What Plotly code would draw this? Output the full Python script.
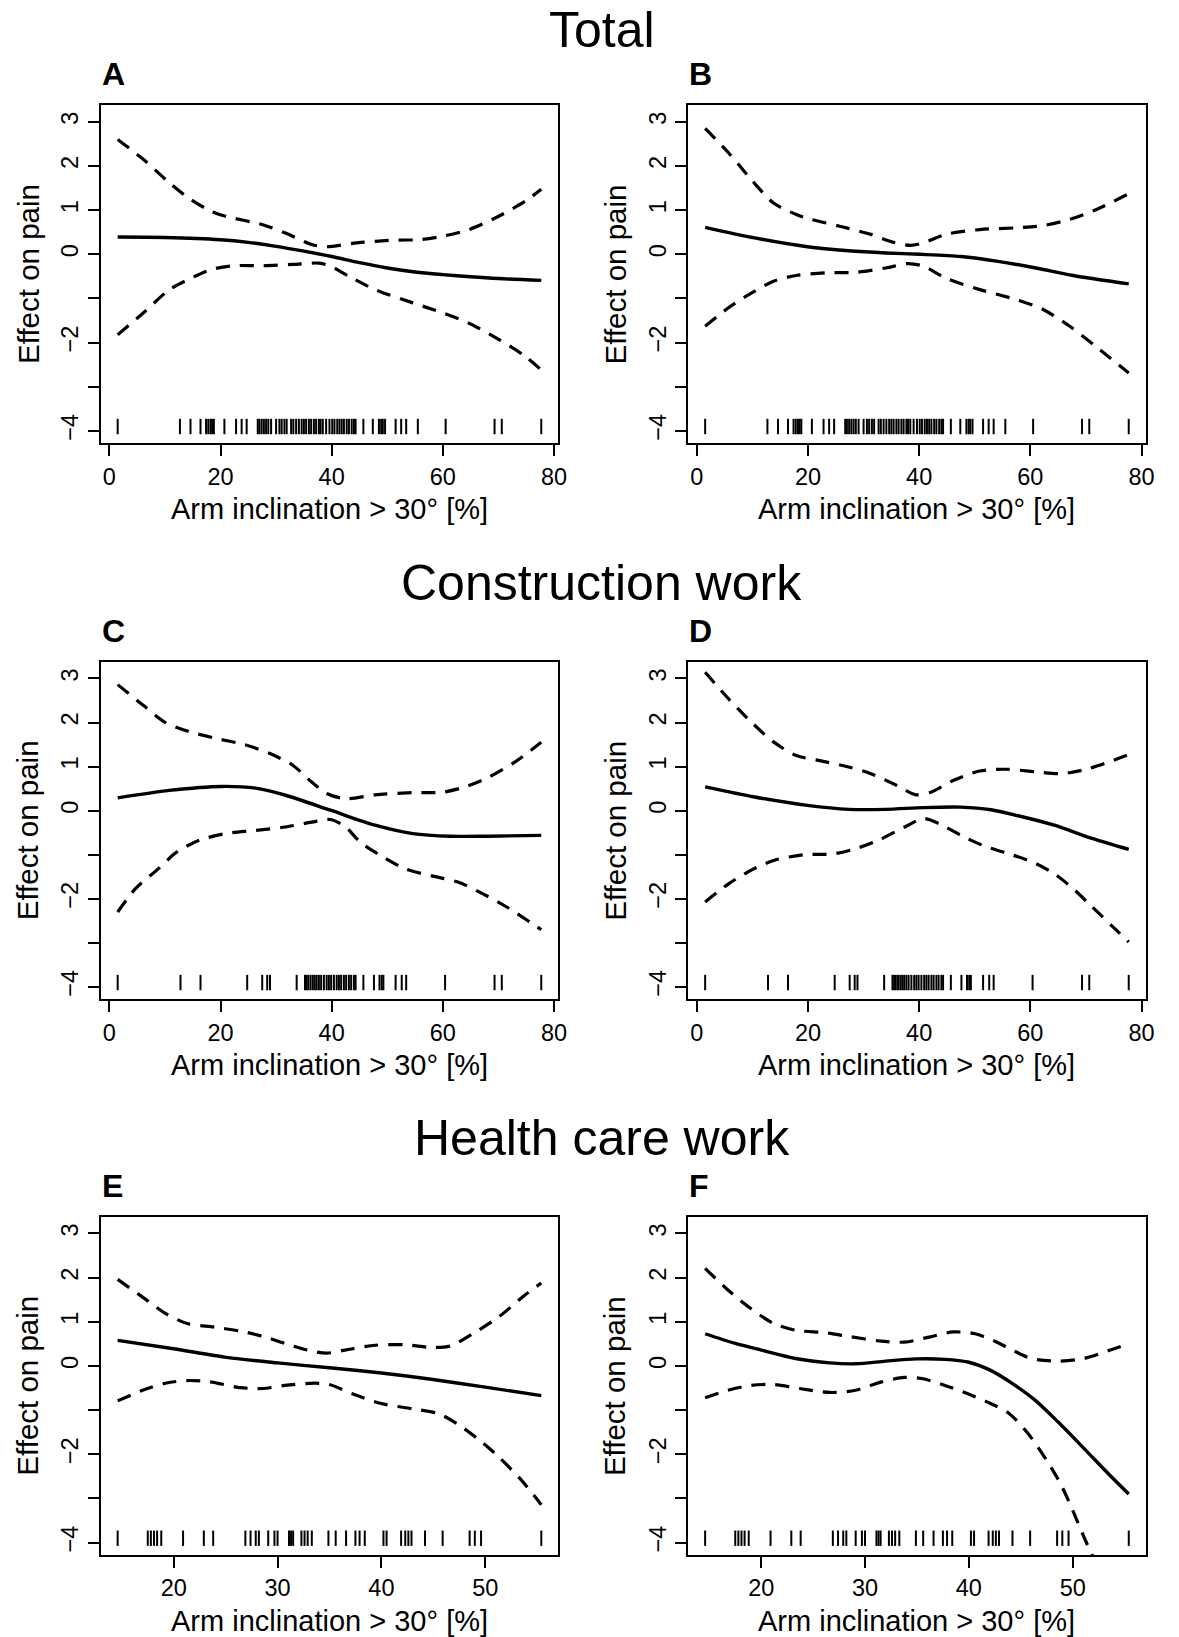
import plotly.graph_objects as go

# ---------------- data ----------------
# Panel A (Total, model 1)
A_fit_x = [1.5, 10, 20, 25, 30, 35, 40, 45, 50, 55, 60, 65, 70, 77.7]
A_fit_y = [0.39, 0.38, 0.33, 0.27, 0.18, 0.07, -0.05, -0.19, -0.31, -0.4, -0.46, -0.51, -0.55, -0.59]
A_up_x = [1.5, 6.1, 10.8, 14.2, 18.2, 20.9, 27.6, 31.7, 36.4, 39.1, 44.5, 51.2, 55.9, 60, 64.7, 69.4, 74.8, 77.7]
A_up_y = [2.6, 2.15, 1.62, 1.28, 0.98, 0.86, 0.67, 0.48, 0.22, 0.17, 0.26, 0.32, 0.33, 0.41, 0.56, 0.82, 1.2, 1.47]
A_lo_x = [1.5, 6.1, 10.8, 14.2, 18.2, 22.2, 27.6, 33, 37.7, 39.8, 43.1, 47.8, 54.6, 60, 64.7, 70.1, 74.8, 77.7]
A_lo_y = [-1.82, -1.33, -0.8, -0.57, -0.35, -0.26, -0.26, -0.23, -0.2, -0.27, -0.5, -0.8, -1.1, -1.33, -1.56, -1.93, -2.31, -2.62]

# Panel B (Total, model 2)
B_fit_x = [1.5, 10.4, 19.9, 27.3, 34, 40.1, 47.5, 54.2, 61, 67.7, 77.7]
B_fit_y = [0.61, 0.37, 0.17, 0.08, 0.03, 0.0, -0.05, -0.16, -0.31, -0.48, -0.67]
B_up_x = [1.5, 5.7, 9.8, 13.8, 17.9, 20.6, 25.9, 31.3, 35.4, 38.4, 40.8, 44.8, 50.9, 57.6, 62.3, 67.1, 71.8, 77.7]
B_up_y = [2.85, 2.3, 1.69, 1.16, 0.9, 0.79, 0.63, 0.45, 0.27, 0.2, 0.26, 0.45, 0.56, 0.6, 0.65, 0.79, 1.01, 1.37]
B_lo_x = [1.5, 5.7, 9.8, 13.8, 17.9, 23.3, 28.6, 34, 38, 40.8, 44.8, 50.9, 57.6, 62.3, 67.1, 71.8, 77.7]
B_lo_y = [-1.63, -1.21, -0.88, -0.61, -0.48, -0.42, -0.41, -0.31, -0.21, -0.27, -0.54, -0.8, -1.03, -1.25, -1.63, -2.09, -2.69]

# Panel C (Construction work, model 1)
C_fit_x = [1.5, 10.8, 20.2, 26.3, 31.7, 39.8, 47.8, 54.6, 61.3, 68.1, 77.7]
C_fit_y = [0.29, 0.46, 0.55, 0.51, 0.35, 0.01, -0.33, -0.52, -0.58, -0.58, -0.56]
C_up_x = [1.5, 6.1, 10.1, 14.2, 19.5, 24.3, 29, 33, 36.4, 39.1, 42.5, 47.8, 54.6, 60, 64, 68.1, 72.8, 77.7]
C_up_y = [2.86, 2.39, 2.0, 1.8, 1.63, 1.5, 1.29, 1.03, 0.65, 0.39, 0.27, 0.36, 0.41, 0.42, 0.54, 0.75, 1.09, 1.55]
C_lo_x = [1.5, 4.7, 8.8, 12.1, 16.2, 20.9, 26.3, 31.7, 36.4, 39.8, 42.5, 45.1, 49.2, 53.2, 58, 62.7, 67.4, 71.4, 77.7]
C_lo_y = [-2.3, -1.77, -1.32, -0.94, -0.67, -0.52, -0.45, -0.37, -0.26, -0.2, -0.37, -0.71, -1.05, -1.32, -1.48, -1.62, -1.9, -2.18, -2.7]

# Panel D (Construction work, model 2)
D_fit_x = [1.5, 10.4, 19.9, 27.3, 34, 40.8, 47.5, 52.9, 57.6, 64.3, 71.1, 77.7]
D_fit_y = [0.54, 0.31, 0.12, 0.03, 0.03, 0.07, 0.08, 0.02, -0.11, -0.33, -0.63, -0.88]
D_up_x = [1.5, 5.7, 9.8, 13.8, 17.9, 21.9, 27.3, 31.3, 36, 39.4, 42.1, 46.2, 50.9, 55.6, 61, 65.7, 70.4, 77.7]
D_up_y = [3.14, 2.54, 2.01, 1.56, 1.25, 1.14, 0.99, 0.84, 0.57, 0.36, 0.42, 0.69, 0.9, 0.94, 0.88, 0.84, 0.95, 1.27]
D_lo_x = [1.5, 5.7, 9.8, 13.8, 19.2, 24.6, 28.6, 32.7, 37.4, 40.8, 43.5, 47.5, 51.5, 56.9, 61, 64.3, 67.7, 71.1, 75.8, 77.7]
D_lo_y = [-2.07, -1.66, -1.35, -1.13, -1.0, -0.98, -0.86, -0.67, -0.37, -0.18, -0.29, -0.56, -0.79, -1.01, -1.2, -1.43, -1.77, -2.18, -2.75, -2.98]

# Panel E (Health care work, model 1)
E_fit_x = [14.6, 20, 24.9, 30, 35, 40, 44.8, 50, 55.4]
E_fit_y = [0.58, 0.39, 0.2, 0.07, -0.04, -0.16, -0.3, -0.48, -0.67]
E_up_x = [14.6, 17, 19.2, 21.3, 23.9, 26.4, 28.6, 30.7, 32.9, 34.7, 36.5, 39.4, 42.3, 44.8, 46.6, 48.8, 51.3, 53.8, 55.4]
E_up_y = [1.96, 1.56, 1.19, 0.96, 0.88, 0.79, 0.67, 0.51, 0.36, 0.29, 0.36, 0.47, 0.48, 0.42, 0.45, 0.73, 1.11, 1.6, 1.88]
E_lo_x = [14.6, 17, 19.2, 21.3, 23.5, 26.4, 28.6, 30.7, 33.6, 35, 37.2, 40, 43, 45.5, 47.3, 49.5, 51.3, 53.5, 55.4]
E_lo_y = [-0.79, -0.55, -0.39, -0.33, -0.36, -0.49, -0.51, -0.44, -0.39, -0.42, -0.63, -0.85, -0.97, -1.08, -1.31, -1.69, -2.06, -2.59, -3.14]

# Panel F (Health care work, model 2)
F_fit_x = [14.6, 17.5, 20, 23.3, 26.6, 29.1, 32, 34.9, 37.7, 39.9, 42.1, 44.2, 46.4, 48.6, 51.1, 53.6, 55.4]
F_fit_y = [0.73, 0.51, 0.36, 0.17, 0.07, 0.05, 0.11, 0.16, 0.15, 0.09, -0.1, -0.4, -0.78, -1.27, -1.87, -2.48, -2.9]
F_up_x = [14.6, 16.8, 19, 21.2, 23.3, 26.2, 28.4, 31.3, 33.8, 36.3, 38.5, 40.6, 42.4, 44.2, 46, 48.6, 51.1, 54, 55.4]
F_up_y = [2.21, 1.72, 1.3, 0.96, 0.81, 0.75, 0.67, 0.57, 0.54, 0.66, 0.77, 0.73, 0.57, 0.36, 0.17, 0.11, 0.17, 0.39, 0.5]
F_lo_x = [14.6, 16.8, 19, 21.2, 23.7, 26.6, 29.1, 31.6, 33.8, 35.6, 37.7, 39.9, 42.1, 43.9, 45.7, 47.5, 48.9, 50, 51.1, 52.5]
F_lo_y = [-0.72, -0.55, -0.44, -0.42, -0.51, -0.6, -0.55, -0.36, -0.26, -0.29, -0.44, -0.63, -0.85, -1.08, -1.53, -2.14, -2.7, -3.27, -3.88, -4.6]

# Rug (observed exposures) per group
RUG_TOTAL = [1.5, 12.7, 14.6, 16.4, 17.4, 17.8, 18.2, 18.5, 18.8, 20.7, 22.8, 23.8, 24.7,
             26.7, 27.0, 27.4, 27.8, 28.2, 28.6, 29.1, 30.0, 30.6, 31.0, 31.5, 31.9, 32.7,
             33.1, 33.6, 34.1, 34.6, 35.0, 35.4, 35.9, 36.3, 36.8, 37.2, 37.7, 38.0, 38.4,
             39.0, 39.6, 40.1, 40.5, 41.0, 41.4, 41.8, 42.2, 42.7, 43.1, 43.6, 44.0, 44.3,
             45.7, 47.4, 48.5, 48.9, 49.2, 49.6, 51.5, 52.5, 53.4, 55.5, 60.5, 69.3, 70.6, 77.7]
RUG_CONSTRUCTION = [1.5, 12.8, 16.4, 24.8, 27.5, 28.4, 28.9, 33.7, 35.2, 35.5, 35.8, 36.2,
                    36.6, 36.95, 37.3, 37.7, 38.1, 38.6, 39.1, 39.5, 39.9, 40.4, 40.9, 41.3,
                    41.7, 42.2, 42.6, 43.1, 43.5, 44.0, 44.3, 45.7, 47.6, 48.6, 49.0, 49.3,
                    51.5, 52.6, 53.4, 60.4, 69.3, 70.6, 77.7]
RUG_HEALTH = [14.6, 17.5, 17.8, 18.1, 18.4, 18.8, 20.9, 22.9, 23.8, 26.9, 27.4, 27.9, 28.2,
              29.1, 29.7, 30.0, 31.1, 31.3, 31.5, 32.3, 32.6, 32.9, 33.3, 34.9, 35.6, 36.6,
              37.5, 37.9, 38.4, 40.2, 40.5, 41.9, 42.3, 42.6, 42.9, 44.2, 45.9, 48.5, 49.0,
              49.6, 55.4]
RUG_LEVEL = -3.9

GROUP_TITLES = ["Total", "Construction work", "Health care work"]
PANEL_LETTERS = ["A", "B", "C", "D", "E", "F"]
X_TITLE = "Arm inclination > 30° [%]"
Y_TITLE = "Effect on pain"
Y_TICKVALS = [-4, -3, -2, -1, 0, 1, 2, 3]
Y_TICKTEXT = ["\u22124", "", "\u22122", "", "0", "1", "2", "3"]
X_TICKS_WIDE = [0, 20, 40, 60, 80]
X_TICKS_HEALTH = [20, 30, 40, 50]
X_RANGE_WIDE = [-1.55, 80.75]
X_RANGE_HEALTH = [12.97, 57.03]
Y_RANGE = [-4.28, 3.38]

panels = [
    (A_fit_x, A_fit_y, A_up_x, A_up_y, A_lo_x, A_lo_y, RUG_TOTAL),
    (B_fit_x, B_fit_y, B_up_x, B_up_y, B_lo_x, B_lo_y, RUG_TOTAL),
    (C_fit_x, C_fit_y, C_up_x, C_up_y, C_lo_x, C_lo_y, RUG_CONSTRUCTION),
    (D_fit_x, D_fit_y, D_up_x, D_up_y, D_lo_x, D_lo_y, RUG_CONSTRUCTION),
    (E_fit_x, E_fit_y, E_up_x, E_up_y, E_lo_x, E_lo_y, RUG_HEALTH),
    (F_fit_x, F_fit_y, F_up_x, F_up_y, F_lo_x, F_lo_y, RUG_HEALTH),
]

# ---------------- layout geometry (pixels) ----------------
W, H = 1179, 1637
COL_LR = [(101.5, 562.5), (693.5, 1154.5)]
ROW_TB = [(105.0, 443.3), (661.7, 999.3), (1216.7, 1555.0)]
TITLE_Y = [29.7, 582.7, 1137.8]
TITLE_X = 606.5
FONT = "Liberation Sans, Arial, Helvetica, sans-serif"


def px(p):
    return p / W


def py(p):
    return 1 - p / H


fig = go.Figure()
annotations = []
layout_axes = {}

DASH = "14px,10px"

for i, (fx, fy, ux, uy, lx, ly, rug) in enumerate(panels):
    row, col = divmod(i, 2)
    n = i + 1
    xa = "x" if n == 1 else f"x{n}"
    ya = "y" if n == 1 else f"y{n}"
    left, right = COL_LR[col]
    top, bottom = ROW_TB[row]
    health = row == 2

    common = dict(xaxis=xa, yaxis=ya, mode="lines", hoverinfo="skip", showlegend=False)
    fig.add_trace(go.Scatter(x=ux, y=uy, line=dict(color="black", width=3.2, dash=DASH,
                                                   shape="spline", smoothing=0.8), **common))
    fig.add_trace(go.Scatter(x=lx, y=ly, line=dict(color="black", width=3.2, dash=DASH,
                                                   shape="spline", smoothing=0.8), **common))
    fig.add_trace(go.Scatter(x=fx, y=fy, line=dict(color="black", width=3.4,
                                                   shape="spline", smoothing=0.8), **common))
    fig.add_trace(go.Scatter(x=rug, y=[RUG_LEVEL] * len(rug), xaxis=xa, yaxis=ya, mode="markers",
                             marker=dict(symbol="line-ns", size=11, color="black",
                                         line=dict(color="black", width=2)),
                             hoverinfo="skip", showlegend=False, cliponaxis=False))

    axis_common = dict(showline=True, linecolor="black", linewidth=2, mirror=True,
                       ticks="outside", ticklen=11, tickwidth=2, tickcolor="black",
                       showgrid=False, zeroline=False,
                       tickfont=dict(family=FONT, size=23.5, color="black"))
    xkey = "xaxis" if n == 1 else f"xaxis{n}"
    ykey = "yaxis" if n == 1 else f"yaxis{n}"
    layout_axes[xkey] = dict(domain=[px(left), px(right)], anchor=ya,
                             range=X_RANGE_HEALTH if health else X_RANGE_WIDE,
                             tickmode="array",
                             tickvals=X_TICKS_HEALTH if health else X_TICKS_WIDE,
                             ticktext=[str(v) for v in (X_TICKS_HEALTH if health else X_TICKS_WIDE)],
                             **axis_common)
    layout_axes[ykey] = dict(domain=[py(bottom), py(top)], anchor=xa, range=Y_RANGE,
                             tickmode="array", tickvals=Y_TICKVALS, ticktext=Y_TICKTEXT,
                             tickangle=-90, **axis_common)

    # panel letter
    annotations.append(dict(text=f"<b>{PANEL_LETTERS[i]}</b>", x=px(left - 1), y=py(top - 31),
                            xref="paper", yref="paper", xanchor="left", yanchor="middle",
                            showarrow=False, font=dict(family=FONT, size=32, color="black")))
    # axis titles
    annotations.append(dict(text=X_TITLE, x=px((left + right) / 2), y=py(bottom + 66),
                            xref="paper", yref="paper", xanchor="center", yanchor="middle",
                            showarrow=False, font=dict(family=FONT, size=29, color="black")))
    annotations.append(dict(text=Y_TITLE, x=px(left - 73.5), y=py((top + bottom) / 2),
                            xref="paper", yref="paper", xanchor="center", yanchor="middle",
                            textangle=-90, showarrow=False,
                            font=dict(family=FONT, size=29.5, color="black")))

for r, t in enumerate(GROUP_TITLES):
    annotations.append(dict(text=t, x=px(TITLE_X), y=py(TITLE_Y[r]), xref="paper", yref="paper",
                            xanchor="center", yanchor="middle", showarrow=False,
                            font=dict(family=FONT, size=50, color="black")))

fig.update_layout(width=W, height=H, margin=dict(l=0, r=0, t=0, b=0),
                  paper_bgcolor="white", plot_bgcolor="white",
                  annotations=annotations, **layout_axes)

fig.write_html("out.html", config={"displayModeBar": False},
               post_script="document.body.style.margin='0px';document.body.style.overflow='hidden';")
